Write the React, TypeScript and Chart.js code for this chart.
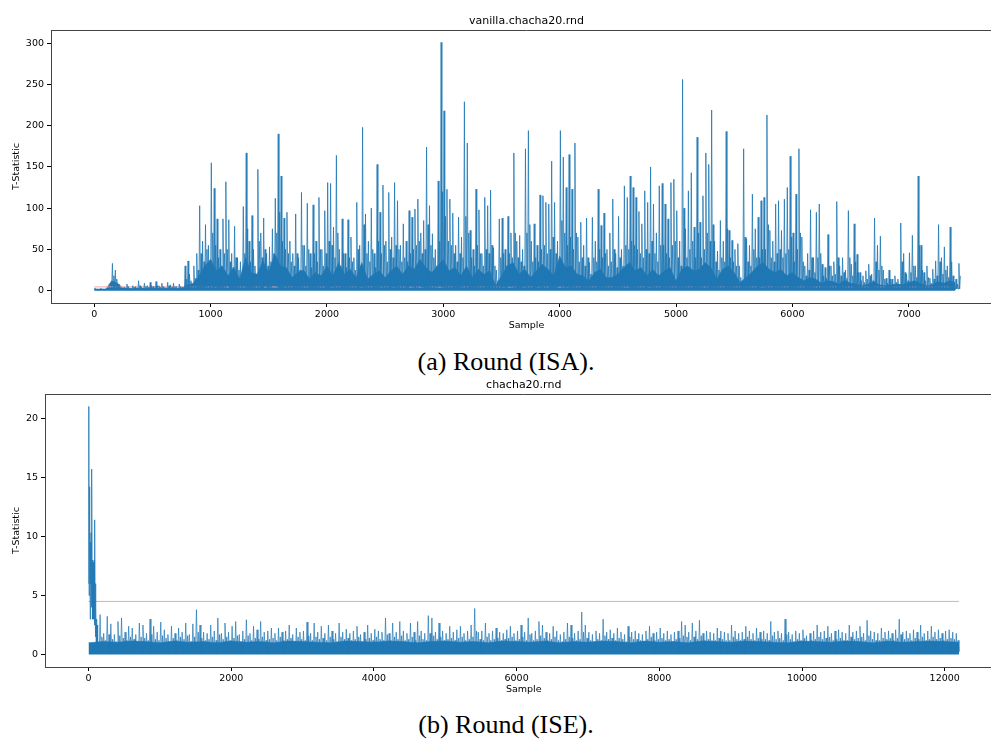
import React, { useEffect, useRef } from "react";
import { Chart, registerables } from "chart.js";

Chart.register(...registerables);

// ---------------- data ----------------
const TOP_TITLE = "vanilla.chacha20.rnd";
const BOTTOM_TITLE = "chacha20.rnd";
const X_LABEL = "Sample";
const Y_LABEL = "T-Statistic";
const CAPTION_A = "(a) Round (ISA).";
const CAPTION_B = "(b) Round (ISE).";
const THRESHOLD = 4.5;

const TOP_X_TICKS = [0, 1000, 2000, 3000, 4000, 5000, 6000, 7000];
const TOP_Y_TICKS = [0, 50, 100, 150, 200, 250, 300];
const BOTTOM_X_TICKS = [0, 2000, 4000, 6000, 8000, 10000, 12000];
const BOTTOM_Y_TICKS = [0, 5, 10, 15, 20];

const TOP_FIRST_SAMPLE = 0;
const TOP_LAST_SAMPLE = 7430;
const BOTTOM_FIRST_SAMPLE = 0;
const BOTTOM_LAST_SAMPLE = 12200;

// Round (ISA): per 25-sample bin — highest spike, a second (mid) spike, and trough
const TOP_BIN = 25;
const topPeaks = [
  3, 2, 3, 2, 3, 4, 33, 25, 8, 3,
  4, 8, 3, 6, 5, 12, 4, 9, 6, 10,
  5, 11, 6, 9, 4, 10, 7, 9, 5, 8,
  4, 30, 36, 12, 30, 45, 103, 60, 80, 55,
  155, 124, 87, 50, 87, 132, 86, 45, 78, 40,
  35, 102, 167, 60, 91, 30, 147, 70, 88, 45,
  53, 75, 112, 190, 139, 88, 95, 60, 45, 93,
  40, 119, 55, 106, 45, 104, 60, 113, 50, 97,
  131, 130, 77, 164, 50, 87, 45, 86, 65, 40,
  107, 55, 198, 93, 60, 100, 45, 153, 95, 128,
  60, 119, 65, 131, 109, 55, 81, 60, 97, 89,
  99, 111, 70, 85, 174, 103, 69, 50, 133, 301,
  218, 123, 111, 94, 55, 89, 65, 229, 179, 73,
  50, 123, 98, 45, 113, 103, 122, 52, 25, 87,
  88, 50, 90, 70, 167, 60, 67, 50, 172, 194,
  60, 81, 55, 116, 115, 107, 105, 157, 107, 60,
  194, 162, 125, 165, 123, 179, 65, 83, 55, 88,
  34, 89, 60, 123, 79, 94, 50, 70, 111, 45,
  90, 50, 127, 113, 139, 125, 113, 96, 81, 121,
  107, 150, 105, 70, 127, 130, 105, 87, 131, 135,
  97, 60, 256, 75, 121, 143, 77, 186, 83, 115,
  167, 153, 219, 60, 48, 85, 60, 193, 73, 61,
  50, 57, 16, 172, 63, 55, 117, 75, 89, 109,
  113, 213, 73, 60, 105, 109, 73, 111, 125, 163,
  70, 117, 172, 65, 30, 45, 98, 40, 95, 105,
  32, 28, 68, 30, 35, 108, 30, 40, 25, 97,
  32, 81, 44, 22, 18, 24, 32, 20, 88, 55,
  66, 25, 15, 25, 14, 18, 14, 82, 45, 20,
  46, 67, 30, 139, 55, 22, 30, 15, 26, 36,
  80, 40, 53, 30, 77, 18, 14, 33,
];
const topMids = [
  2, 1, 2, 1, 2, 3, 18, 14, 4, 2,
  3, 5, 2, 4, 3, 6, 3, 5, 4, 6,
  3, 6, 4, 5, 3, 6, 4, 5, 3, 5,
  3, 14, 20, 8, 15, 25, 45, 35, 50, 30,
  70, 55, 40, 30, 45, 50, 35, 28, 40, 25,
  20, 45, 75, 35, 50, 20, 60, 40, 50, 30,
  35, 45, 70, 95, 60, 50, 45, 35, 30, 45,
  25, 55, 30, 50, 28, 45, 35, 50, 30, 45,
  60, 55, 40, 70, 30, 45, 28, 40, 35, 25,
  50, 30, 80, 45, 35, 50, 28, 60, 45, 55,
  35, 50, 40, 55, 50, 35, 40, 35, 45, 50,
  55, 60, 45, 50, 80, 55, 40, 30, 60, 120,
  90, 60, 55, 45, 35, 45, 40, 90, 70, 40,
  30, 55, 45, 30, 50, 45, 55, 30, 12, 40,
  45, 30, 45, 40, 70, 40, 35, 30, 70, 80,
  35, 40, 35, 50, 55, 45, 50, 65, 45, 35,
  85, 70, 55, 65, 50, 70, 35, 40, 30, 40,
  20, 40, 35, 50, 40, 45, 30, 35, 50, 28,
  40, 30, 55, 50, 60, 55, 50, 45, 40, 50,
  45, 60, 45, 35, 55, 55, 45, 40, 55, 60,
  40, 30, 100, 40, 50, 60, 40, 70, 40, 50,
  70, 60, 80, 35, 25, 40, 35, 75, 40, 35,
  30, 30, 10, 65, 35, 30, 50, 40, 40, 50,
  50, 80, 40, 35, 45, 50, 40, 45, 50, 65,
  35, 50, 70, 35, 18, 25, 40, 22, 40, 45,
  18, 15, 30, 18, 20, 40, 18, 22, 15, 40,
  18, 35, 22, 12, 10, 14, 18, 12, 35, 25,
  30, 14, 9, 14, 8, 10, 8, 35, 22, 12,
  22, 30, 16, 55, 25, 12, 16, 9, 14, 18,
  35, 20, 25, 16, 35, 10, 8, 18,
];
const topLows = [
  1, 1, 1, 1, 1, 1, 2, 2, 1, 1,
  1, 1, 1, 1, 1, 1, 1, 1, 1, 1,
  1, 1, 1, 1, 1, 1, 1, 1, 1, 1,
  1, 2, 2, 1, 2, 3, 2, 3, 2, 4,
  3, 2, 4, 2, 3, 2, 5, 2, 3, 2,
  2, 3, 4, 2, 3, 2, 4, 3, 2, 5,
  3, 4, 6, 5, 3, 2, 4, 3, 2, 3,
  2, 3, 2, 4, 2, 3, 2, 3, 2, 4,
  3, 2, 4, 3, 2, 3, 2, 2, 3, 2,
  2, 3, 4, 3, 2, 2, 3, 2, 3, 4,
  2, 3, 2, 4, 3, 2, 3, 4, 3, 5,
  4, 3, 5, 4, 3, 2, 3, 2, 4, 5,
  4, 3, 2, 3, 2, 3, 2, 4, 3, 2,
  2, 3, 2, 2, 3, 2, 3, 1, 1, 2,
  3, 4, 3, 5, 4, 3, 2, 3, 4, 3,
  2, 3, 2, 4, 3, 3, 4, 3, 2, 2,
  5, 4, 3, 4, 3, 3, 2, 2, 3, 2,
  2, 3, 2, 3, 2, 3, 2, 2, 3, 2,
  2, 2, 3, 4, 4, 3, 3, 2, 3, 3,
  3, 4, 3, 2, 3, 3, 2, 3, 3, 2,
  1, 2, 3, 2, 3, 3, 2, 3, 2, 3,
  4, 3, 3, 2, 2, 2, 3, 3, 3, 2,
  2, 2, 1, 2, 2, 3, 3, 2, 3, 3,
  4, 3, 3, 2, 3, 3, 2, 3, 2, 3,
  3, 2, 2, 2, 2, 2, 2, 2, 2, 2,
  2, 2, 2, 2, 2, 2, 2, 2, 2, 2,
  2, 1, 2, 2, 1, 2, 2, 1, 2, 2,
  2, 1, 1, 2, 1, 1, 1, 2, 2, 1,
  2, 2, 1, 2, 2, 1, 2, 1, 1, 2,
  2, 2, 2, 2, 2, 1, 1, 2,
];
// upper edge of the dense core, every 50 samples
const TOP_CORE_STEP = 50;
const topCore = [
  2, 2, 2, 12, 9, 3, 3, 3, 3, 3, 3, 3, 3, 3, 3, 3, 7, 9, 18, 30,
  38, 24, 30, 18, 28, 14, 40, 22, 20, 36, 22, 45, 30, 28, 16, 22, 25, 14, 22, 18,
  30, 18, 34, 20, 26, 16, 34, 14, 20, 24, 16, 24, 30, 20, 30, 26, 38, 28, 22, 30,
  38, 24, 28, 18, 30, 16, 26, 20, 24, 6, 18, 30, 34, 20, 26, 16, 24, 32, 26, 18,
  42, 28, 30, 20, 18, 12, 22, 26, 16, 16, 20, 28, 34, 24, 28, 18, 26, 18, 24, 28,
  12, 26, 30, 24, 26, 34, 28, 14, 26, 30, 22, 10, 16, 22, 30, 34, 26, 22, 26, 18,
  22, 16, 12, 16, 14, 9, 12, 11, 8, 13, 9, 8, 6, 8, 11, 7, 6, 7, 8, 7,
  10, 12, 9, 6, 7, 11, 9, 12, 10,
];

// Round (ISE): burst at the start (every 4 samples)
const BOTTOM_BURST_STEP = 4;
const bottomBurst = [
  6, 21, 5, 14.2, 7, 11, 3, 9.5, 6, 10.3,
  4, 8, 15.7, 5, 8, 3, 7.8, 4, 7.5, 3,
  8, 2.5, 11.4, 3, 6, 1.5, 4, 0.8, 3, 0.5,
  2.5, 0.3, 2, 0.4,
];
// then per 50-sample bin from sample 150: highest spike, mid spike, trough
const BOTTOM_START = 150;
const BOTTOM_BIN = 50;
const bottomPeaks = [
  3.38, 1.8, 3.24, 2.6, 1.7, 2.8, 3.1, 1.9, 2.4, 2.25,
  1.7, 2.67, 2.5, 1.8, 3.0, 2.4, 1.9, 2.75, 2.1, 1.7,
  2.4, 1.8, 2.25, 1.9, 2.67, 1.7, 2.6, 3.8, 2.5, 1.9,
  1.8, 2.5, 2.0, 3.1, 1.8, 2.67, 1.9, 2.4, 2.8, 1.7,
  2.0, 2.95, 1.8, 2.4, 2.1, 2.8, 1.9, 2.0, 2.25, 1.8,
  2.25, 1.9, 2.0, 2.5, 1.7, 2.25, 1.9, 2.0, 2.75, 1.8,
  2.67, 1.9, 2.4, 1.8, 2.5, 2.0, 1.8, 2.67, 1.9, 2.15,
  1.8, 2.0, 2.4, 1.7, 1.9, 2.5, 1.8, 2.15, 2.0, 1.9,
  3.1, 1.8, 2.67, 1.9, 2.8, 2.0, 1.8, 2.67, 1.9, 2.8,
  2.0, 1.8, 3.3, 3.1, 1.9, 2.67, 2.0, 1.8, 2.4, 1.9,
  2.1, 2.4, 1.8, 2.0, 2.5, 3.9, 1.9, 2.0, 2.67, 1.8,
  2.0, 2.25, 1.9, 1.8, 2.1, 2.4, 1.8, 2.0, 2.5, 1.9,
  3.1, 1.8, 2.0, 2.8, 2.5, 1.9, 1.8, 2.4, 2.0, 1.7,
  1.9, 2.67, 2.5, 1.8, 2.0, 3.6, 2.5, 1.9, 1.7, 2.0,
  1.8, 3.0, 1.9, 2.1, 1.8, 2.25, 1.9, 1.7, 2.4, 1.9,
  2.0, 1.8, 1.7, 2.0, 2.4, 1.8, 1.9, 2.25, 1.8, 2.0,
  1.7, 1.9, 2.0, 2.8, 2.5, 1.9, 2.67, 2.0, 2.9, 1.8,
  2.0, 1.9, 1.8, 2.25, 2.0, 1.9, 1.8, 2.5, 2.0, 1.8,
  1.9, 2.4, 2.0, 1.8, 2.25, 1.9, 2.0, 1.8, 2.8, 1.9,
  2.0, 1.8, 3.0, 1.9, 1.7, 2.0, 1.8, 2.1, 1.6, 1.8,
  2.0, 2.5, 1.9, 2.0, 2.4, 1.8, 2.0, 2.1, 1.9, 1.8,
  2.5, 1.9, 2.0, 2.4, 1.8, 2.9, 2.0, 1.9, 1.8, 2.25,
  1.9, 2.0, 1.8, 2.1, 3.0, 1.9, 2.0, 1.8, 2.1, 1.9,
  2.5, 1.8, 2.0, 2.4, 1.9, 2.1, 1.8, 2.0, 2.1, 1.9,
  1.8,
];
const bottomMids = [
  1.5, 1.2, 1.7, 1.3, 1.1, 1.6, 1.4, 1.2, 1.5, 1.3,
  1.1, 1.5, 1.4, 1.2, 1.7, 1.3, 1.2, 1.6, 1.4, 1.1,
  1.4, 1.2, 1.5, 1.3, 1.6, 1.1, 1.5, 1.9, 1.4, 1.2,
  1.3, 1.5, 1.2, 1.7, 1.3, 1.5, 1.2, 1.4, 1.6, 1.1,
  1.3, 1.6, 1.2, 1.4, 1.3, 1.5, 1.2, 1.3, 1.4, 1.2,
  1.5, 1.2, 1.3, 1.4, 1.1, 1.5, 1.3, 1.2, 1.6, 1.2,
  1.5, 1.3, 1.4, 1.2, 1.5, 1.3, 1.1, 1.5, 1.3, 1.4,
  1.2, 1.3, 1.5, 1.1, 1.3, 1.4, 1.2, 1.5, 1.3, 1.2,
  1.7, 1.2, 1.5, 1.3, 1.6, 1.2, 1.3, 1.5, 1.2, 1.6,
  1.3, 1.2, 1.8, 1.6, 1.3, 1.5, 1.2, 1.3, 1.4, 1.2,
  1.4, 1.5, 1.2, 1.3, 1.5, 2.0, 1.3, 1.2, 1.5, 1.2,
  1.3, 1.4, 1.2, 1.3, 1.4, 1.5, 1.2, 1.3, 1.5, 1.2,
  1.7, 1.2, 1.3, 1.6, 1.4, 1.2, 1.3, 1.5, 1.2, 1.1,
  1.3, 1.5, 1.4, 1.2, 1.3, 1.9, 1.4, 1.2, 1.1, 1.3,
  1.2, 1.6, 1.3, 1.4, 1.2, 1.4, 1.3, 1.1, 1.5, 1.3,
  1.3, 1.2, 1.1, 1.3, 1.5, 1.2, 1.3, 1.4, 1.2, 1.3,
  1.1, 1.3, 1.4, 1.6, 1.5, 1.2, 1.5, 1.3, 1.6, 1.2,
  1.3, 1.2, 1.2, 1.4, 1.3, 1.2, 1.2, 1.5, 1.3, 1.2,
  1.3, 1.5, 1.3, 1.2, 1.4, 1.3, 1.3, 1.2, 1.6, 1.3,
  1.4, 1.2, 1.7, 1.3, 1.1, 1.3, 1.2, 1.4, 1.1, 1.2,
  1.3, 1.5, 1.3, 1.4, 1.5, 1.2, 1.3, 1.4, 1.2, 1.2,
  1.5, 1.3, 1.4, 1.5, 1.2, 1.6, 1.3, 1.2, 1.2, 1.4,
  1.3, 1.4, 1.2, 1.4, 1.7, 1.3, 1.4, 1.2, 1.4, 1.3,
  1.5, 1.2, 1.3, 1.5, 1.3, 1.4, 1.2, 1.3, 1.4, 1.3,
  1.2,
];
const bottomLows = [
  0.2, 0.1, 0.3, 0.15, 0.25, 0.1, 0.2, 0.35, 0.1, 0.2,
  0.3, 0.15, 0.1, 0.25, 0.2, 0.1, 0.3, 0.2, 0.15, 0.1,
  0.25, 0.2, 0.1, 0.3, 0.15, 0.2, 0.1, 0.25, 0.3, 0.1,
  0.2, 0.15, 0.3, 0.1, 0.2, 0.25, 0.1, 0.2, 0.15, 0.3,
  0.1, 0.25, 0.2, 0.15, 0.3, 0.1, 0.2, 0.1, 0.25, 0.2,
  0.15, 0.3, 0.1, 0.2, 0.25, 0.1, 0.3, 0.15, 0.2, 0.1,
  0.3, 0.2, 0.1, 0.25, 0.15, 0.2, 0.1, 0.3, 0.2, 0.15,
  0.1, 0.2, 0.3, 0.15, 0.25, 0.1, 0.2, 0.15, 0.3, 0.1,
  0.25, 0.1, 0.2, 0.3, 0.15, 0.2, 0.1, 0.25, 0.15, 0.3,
  0.2, 0.1, 0.15, 0.25, 0.3, 0.1, 0.2, 0.15, 0.1, 0.25,
  0.3, 0.15, 0.2, 0.1, 0.25, 0.2, 0.1, 0.3, 0.15, 0.2,
  0.1, 0.25, 0.3, 0.15, 0.2, 0.1, 0.2, 0.25, 0.1, 0.3,
  0.15, 0.2, 0.1, 0.3, 0.25, 0.1, 0.2, 0.15, 0.3, 0.1,
  0.2, 0.3, 0.15, 0.1, 0.25, 0.2, 0.1, 0.3, 0.2, 0.15,
  0.1, 0.2, 0.25, 0.3, 0.1, 0.15, 0.2, 0.1, 0.25, 0.3,
  0.2, 0.15, 0.1, 0.25, 0.3, 0.2, 0.1, 0.15, 0.2, 0.3,
  0.1, 0.25, 0.2, 0.15, 0.1, 0.3, 0.2, 0.25, 0.1, 0.15,
  0.3, 0.1, 0.2, 0.25, 0.15, 0.1, 0.3, 0.2, 0.1, 0.25,
  0.2, 0.15, 0.3, 0.1, 0.2, 0.25, 0.15, 0.1, 0.3, 0.2,
  0.1, 0.3, 0.2, 0.15, 0.25, 0.1, 0.2, 0.3, 0.15, 0.1,
  0.25, 0.2, 0.1, 0.3, 0.15, 0.2, 0.25, 0.1, 0.2, 0.3,
  0.15, 0.1, 0.25, 0.2, 0.3, 0.1, 0.15, 0.2, 0.25, 0.1,
  0.3, 0.2, 0.15, 0.1, 0.25, 0.3, 0.1, 0.2, 0.15, 0.25,
  0.1, 0.2, 0.3, 0.15, 0.2, 0.1, 0.25, 0.3, 0.2, 0.15,
  0.2, 0.25,
];
// upper edge of the dense band, every 200 samples
const BOTTOM_CORE_STEP = 200;
const bottomCore = [
  1.0, 1.1, 1.05, 1.15, 1.1, 1.0, 1.15, 1.05, 1.1, 1.0,
  1.15, 1.05, 1.1, 1.0, 1.15, 1.1, 1.05, 1.0, 1.15, 1.1,
  1.05, 1.15, 1.1, 1.0, 1.1, 1.15, 1.05, 1.1, 1.0, 1.15,
  1.1, 1.05, 1.15, 1.0, 1.1, 1.05, 1.15, 1.1, 1.0, 1.15,
  1.05, 1.1, 1.0, 1.15, 1.1, 1.05, 1.15, 1.1, 1.05, 1.0,
  1.15, 1.1, 1.05, 1.15, 1.1, 1.0, 1.15, 1.05, 1.1, 1.15,
  1.1, 1.05,
];

// ---------------- helpers ----------------
const BLUE = "#1f77b4";
const PINK = "#f4a4a4";
const FONT = "'DejaVu Sans', sans-serif";

type Pt = { x: number; y: number };

// each bin: trough -> highest spike -> next trough -> mid spike
function zigzag(start: number, step: number, lows: number[], peaks: number[], mids: number[]): Pt[] {
  const pts: Pt[] = [];
  for (let i = 0; i < lows.length; i++) {
    const x0 = start + i * step;
    pts.push({ x: x0, y: lows[i] });
    if (i < peaks.length) pts.push({ x: x0 + step * 0.25, y: peaks[i] });
    if (i < mids.length) {
      pts.push({ x: x0 + step * 0.5, y: lows[Math.min(i + 1, lows.length - 1)] });
      pts.push({ x: x0 + step * 0.75, y: mids[i] });
    }
  }
  return pts;
}

function series(start: number, step: number, values: number[]): Pt[] {
  return values.map((v, i) => ({ x: start + i * step, y: v }));
}

const framePlugin = {
  id: "frame",
  afterDraw(chart: any, _args: any, opts: any) {
    const { ctx, chartArea: a } = chart;
    ctx.save();
    ctx.strokeStyle = "#444";
    ctx.lineWidth = 1;
    ctx.beginPath();
    ctx.moveTo(a.left, Math.round(a.top) + 0.5);
    ctx.lineTo(a.right, Math.round(a.top) + 0.5);
    ctx.stroke();
    ctx.fillStyle = "#000";
    ctx.textAlign = "center";
    ctx.textBaseline = "alphabetic";
    ctx.font = `11px ${FONT}`;
    ctx.fillText(opts.title, (a.left + a.right) / 2, a.top - 6);
    ctx.font = `9.5px ${FONT}`;
    ctx.textBaseline = "top";
    ctx.fillText(opts.xLabel, (a.left + a.right) / 2, a.bottom + 18);
    ctx.translate(opts.yLabelX, (a.top + a.bottom) / 2);
    ctx.rotate(-Math.PI / 2);
    ctx.textBaseline = "middle";
    ctx.fillText(opts.yLabel, 0, 0);
    ctx.restore();
  },
};

type Spec = {
  title: string;
  datasets: any[];
  xMin: number;
  xMax: number;
  yMin: number;
  yMax: number;
  xTicks: number[];
  yTicks: number[];
  yAxisWidth: number;
  padRight: number;
};

function buildConfig(s: Spec): any {
  const tickFont = { family: FONT, size: 9.5 };
  return {
    type: "line",
    data: { datasets: s.datasets },
    plugins: [framePlugin],
    options: {
      animation: false,
      responsive: false,
      events: [],
      parsing: false,
      normalized: true,
      layout: { padding: { top: 30, right: s.padRight, left: 0, bottom: 0 } },
      plugins: {
        legend: { display: false },
        tooltip: { enabled: false },
        title: { display: false },
        colors: { enabled: false },
        frame: { title: s.title, xLabel: X_LABEL, yLabel: Y_LABEL, yLabelX: 17 },
      },
      elements: { point: { radius: 0 }, line: { tension: 0 } },
      scales: {
        x: {
          type: "linear",
          min: s.xMin,
          max: s.xMax,
          afterBuildTicks: (sc: any) => {
            sc.ticks = s.xTicks.map((v) => ({ value: v }));
          },
          afterFit: (sc: any) => {
            sc.height = 37;
          },
          grid: { drawOnChartArea: false, drawTicks: true, tickLength: 4, tickColor: "#000", tickWidth: 1 },
          border: { display: true, color: "#444", width: 1 },
          ticks: {
            color: "#000",
            font: tickFont,
            padding: 2,
            maxRotation: 0,
            autoSkip: false,
            callback: (v: any) => String(v),
          },
        },
        y: {
          type: "linear",
          min: s.yMin,
          max: s.yMax,
          afterBuildTicks: (sc: any) => {
            sc.ticks = s.yTicks.map((v) => ({ value: v }));
          },
          afterFit: (sc: any) => {
            sc.width = s.yAxisWidth;
          },
          grid: { drawOnChartArea: false, drawTicks: true, tickLength: 4, tickColor: "#000", tickWidth: 1 },
          border: { display: true, color: "#444", width: 1 },
          ticks: {
            color: "#000",
            font: tickFont,
            padding: 3,
            autoSkip: false,
            callback: (v: any) => String(v),
          },
        },
      },
    },
  };
}

function spikeSet(data: Pt[], order: number, width: number) {
  return {
    data,
    borderColor: BLUE,
    backgroundColor: BLUE,
    borderWidth: width,
    borderJoinStyle: "round",
    pointRadius: 0,
    fill: false,
    order,
  };
}

function coreSet(data: Pt[], order: number) {
  return {
    data,
    borderColor: BLUE,
    backgroundColor: BLUE,
    borderWidth: 0.5,
    pointRadius: 0,
    fill: "origin",
    order,
  };
}

function thresholdSet(x0: number, x1: number, order: number) {
  return {
    data: [
      { x: x0, y: THRESHOLD },
      { x: x1, y: THRESHOLD },
    ],
    borderColor: PINK,
    backgroundColor: PINK,
    borderWidth: 1,
    pointRadius: 0,
    fill: false,
    order,
  };
}

export default function App() {
  const topRef = useRef<HTMLCanvasElement | null>(null);
  const bottomRef = useRef<HTMLCanvasElement | null>(null);

  useEffect(() => {
    // lower order = drawn later (on top): spikes over threshold over core
    const topSpec: Spec = {
      title: TOP_TITLE,
      datasets: [
        spikeSet(zigzag(0, TOP_BIN, topLows, topPeaks, topMids), 0, 0.8),
        thresholdSet(TOP_FIRST_SAMPLE, TOP_LAST_SAMPLE, 1),
        coreSet(series(0, TOP_CORE_STEP, topCore), 2),
      ],
      xMin: -371.5,
      xMax: 7801.5,
      yMin: -15,
      yMax: 316,
      xTicks: TOP_X_TICKS,
      yTicks: TOP_Y_TICKS,
      yAxisWidth: 51,
      padRight: 8,
    };
    const bottomSpec: Spec = {
      title: BOTTOM_TITLE,
      datasets: [
        spikeSet(series(0, BOTTOM_BURST_STEP, bottomBurst), 0, 0.8),
        spikeSet(zigzag(BOTTOM_START, BOTTOM_BIN, bottomLows, bottomPeaks, bottomMids), 1, 0.7),
        thresholdSet(BOTTOM_FIRST_SAMPLE, BOTTOM_LAST_SAMPLE, 2),
        coreSet(series(0, BOTTOM_CORE_STEP, bottomCore), 3),
      ],
      xMin: -610,
      xMax: 12810,
      yMin: -1.05,
      yMax: 22.05,
      xTicks: BOTTOM_X_TICKS,
      yTicks: BOTTOM_Y_TICKS,
      yAxisWidth: 45,
      padRight: 7.5,
    };
    const c1 = new Chart(topRef.current as HTMLCanvasElement, buildConfig(topSpec));
    const c2 = new Chart(bottomRef.current as HTMLCanvasElement, buildConfig(bottomSpec));
    return () => {
      c1.destroy();
      c2.destroy();
    };
  }, []);

  const captionStyle: React.CSSProperties = {
    position: "absolute",
    left: 306,
    width: 400,
    textAlign: "center",
    fontFamily: "'Liberation Serif', serif",
    fontSize: 26,
    lineHeight: "30px",
    color: "#000",
    whiteSpace: "nowrap",
  };

  return (
    <div
      style={{
        position: "fixed",
        left: 0,
        top: 0,
        width: 991,
        height: 740,
        overflow: "hidden",
        background: "#fff",
      }}
    >
      <div style={{ ...captionStyle, top: 347 }}>{CAPTION_A}</div>
      <div style={{ ...captionStyle, top: 710 }}>{CAPTION_B}</div>
      <canvas
        ref={topRef}
        width={1010}
        height={340}
        style={{ position: "absolute", left: 0, top: 0, width: 1010, height: 340 }}
      />
      <canvas
        ref={bottomRef}
        width={1010}
        height={340}
        style={{ position: "absolute", left: 0, top: 364, width: 1010, height: 340 }}
      />
    </div>
  );
}
